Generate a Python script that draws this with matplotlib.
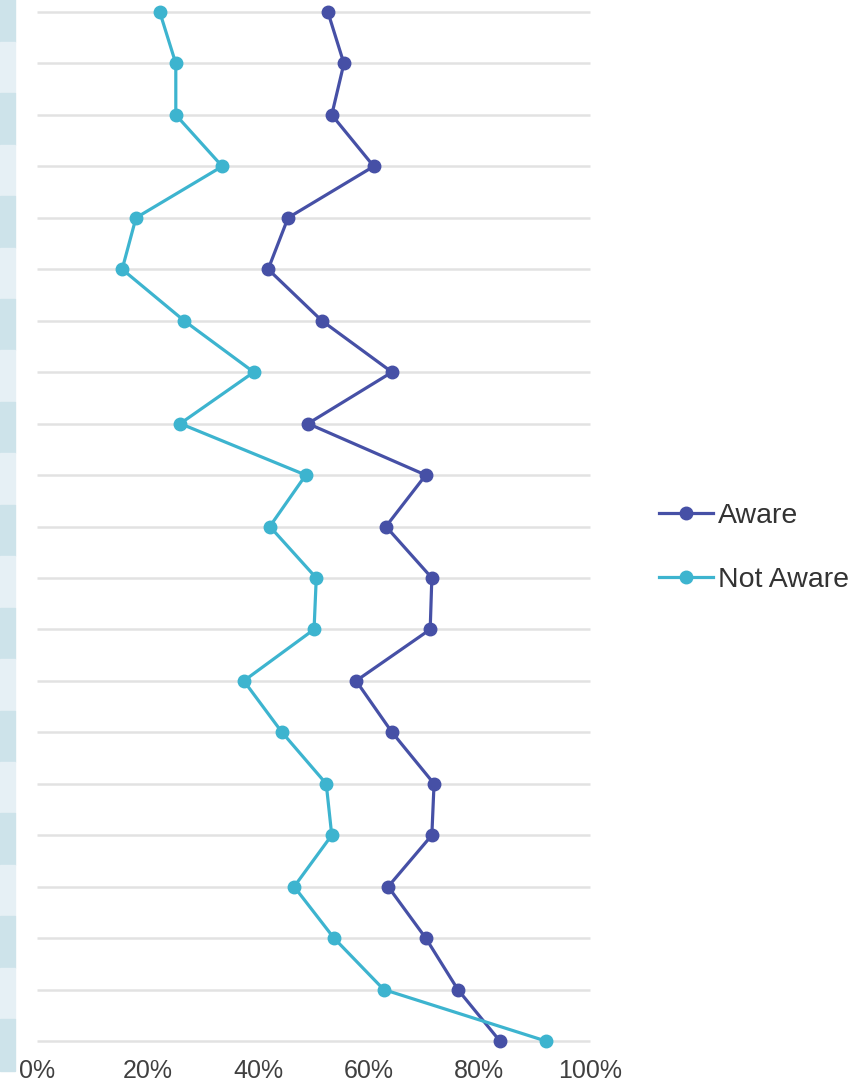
import numpy as np
import matplotlib.pyplot as plt
from matplotlib.patches import Rectangle

plt.rcParams['font.family'] = ['Liberation Sans', 'DejaVu Sans']

# survey items, top to bottom
items = [f"Item {i}" for i in range(1, 22)]

aware = [52.6, 55.5, 53.3, 60.9, 45.4, 41.8, 51.5, 64.2, 49.0, 70.3, 63.1,
         71.4, 71.1, 57.7, 64.2, 71.8, 71.4, 63.5, 70.3, 76.1, 83.7]
not_aware = [22.2, 25.1, 25.1, 33.5, 17.9, 15.4, 26.6, 39.2, 25.9, 48.6, 42.1,
             50.5, 50.1, 37.4, 44.3, 52.3, 53.3, 46.5, 53.7, 62.7, 92.0]

series_names = ["Aware", "Not Aware"]
colors = ["#4650a6", "#3db4cf"]
xticks = [0, 20, 40, 60, 80, 100]

W, H = 867, 1085
fig = plt.figure(figsize=(W / 100, H / 100), dpi=100)

# banded strip along the left edge (one band per row)
n = len(items)
top_px, bot_px = 12, 1041
step = (bot_px - top_px) / (n - 1)
for i in range(n):
    c = top_px + 4 + i * step
    y0 = H - (c + step / 2)
    col = "#cde3ea" if i % 2 == 0 else "#e6f0f5"
    fig.patches.append(Rectangle((0, y0 / H), 15 / W, step / H,
                                 transform=fig.transFigure, color=col, zorder=0))

ax = fig.add_axes([37 / W, (H - bot_px) / H, (590 - 37) / W, (bot_px - top_px) / H])
y = np.arange(n)

for vals, name, col in zip([aware, not_aware], series_names, colors):
    ax.plot(vals, y, color=col, lw=2.3, marker="o", ms=9, label=name,
            clip_on=False, zorder=3)

ax.set_xlim(0, 100)
ax.set_ylim(n - 1, 0)
ax.set_yticks(y)
ax.set_yticklabels([])
ax.tick_params(axis="y", length=0)
ax.set_xticks(xticks)
ax.set_xticklabels([f"{v}%" for v in xticks], fontsize=18, color="#404040")
ax.tick_params(axis="x", length=0, pad=13)
ax.grid(axis="y", color="#e2e2e2", lw=1.8)
for gl in ax.get_ygridlines():
    gl.set_clip_on(False)
    gl.set_solid_capstyle("butt")
ax.set_axisbelow(True)
for s in ax.spines.values():
    s.set_visible(False)

leg = fig.legend(loc="center left", bbox_to_anchor=(633 / W, 1 - 548 / H),
                 frameon=False, fontsize=20.5, handlelength=1.9,
                 handletextpad=0.2, labelspacing=1.35)
for t in leg.get_texts():
    t.set_color("#333333")

fig.savefig("out.png", dpi=100)
